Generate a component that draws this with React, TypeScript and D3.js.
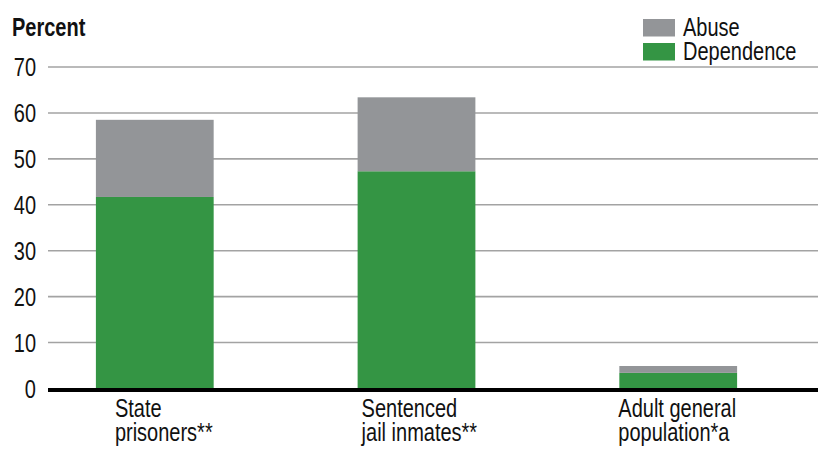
import React from "react";
import * as d3 from "d3";

const categories = ["State prisoners**", "Sentenced jail inmates**", "Adult general population*a"];
const categoryLines = [["State", "prisoners**"], ["Sentenced", "jail inmates**"], ["Adult general", "population*a"]];
const dependence = [41.7, 47.3, 3.4];
const abuse = [16.8, 16.1, 1.5];
const yTicks = [0, 10, 20, 30, 40, 50, 60, 70];
const seriesNames = ["Abuse", "Dependence"];
const colors = { Abuse: "#939598", Dependence: "#349544" };

const W = 818;
const H = 451;
const FONT = "'Liberation Sans', Arial, sans-serif";
const SX = 0.8;

function T(props: { x: number; y: number; anchor?: string; size?: number; bold?: boolean; children: any }) {
  const { x, y, anchor = "start", size = 25, bold = false, children } = props;
  return (
    <text
      transform={`translate(${x},${y}) scale(${SX},1)`}
      textAnchor={anchor as any}
      fontSize={size}
      fontWeight={bold ? "bold" : "normal"}
      fill="#111"
    >
      {children}
    </text>
  );
}

export default function App() {
  const y = d3.scaleLinear().domain([0, 70]).range([388.5, 67]);
  const x = d3.scaleBand<string>().domain(categories).range([48, 785]).paddingInner(0.55).paddingOuter(0.183);
  const labelDx = [19, 4, -1];

  const rows = categories.map((c, i) => ({ cat: c, Dependence: dependence[i], Abuse: abuse[i] }));
  const stack = d3.stack<any>().keys(["Dependence", "Abuse"])(rows);

  return (
    <svg width={W} height={H} style={{ position: "absolute", left: 0, top: 0, background: "#fff" }} fontFamily={FONT}>
      {yTicks.filter((t) => t > 0).map((t) => (
        <line key={t} x1={48} x2={W} y1={y(t)} y2={y(t)} stroke="#a3a3a3" strokeWidth={1.6} />
      ))}
      {yTicks.map((t) => (
        <T key={t} x={36} y={y(t) + 9} anchor="end">
          {t}
        </T>
      ))}
      {stack.map((s) =>
        s.map((d, i) => (
          <rect
            key={s.key + i}
            x={x(categories[i])!}
            width={x.bandwidth()}
            y={y(d[1])}
            height={y(d[0]) - y(d[1])}
            fill={(colors as any)[s.key]}
          />
        ))
      )}
      <line x1={48} x2={W} y1={y(0) + 1.5} y2={y(0) + 1.5} stroke="#000" strokeWidth={4} />
      {categories.map((c, i) =>
        categoryLines[i].map((ln, j) => (
          <T key={c + j} x={x(c)! + labelDx[i]} y={417 + j * 24}>
            {ln}
          </T>
        ))
      )}
      <T x={12} y={36} bold>
        Percent
      </T>
      {seriesNames.map((n, i) => (
        <g key={n}>
          <rect x={643} y={19 + i * 24} width={32} height={17.5} fill={(colors as any)[n]} />
          <T x={683} y={36 + i * 24}>
            {n}
          </T>
        </g>
      ))}
    </svg>
  );
}
